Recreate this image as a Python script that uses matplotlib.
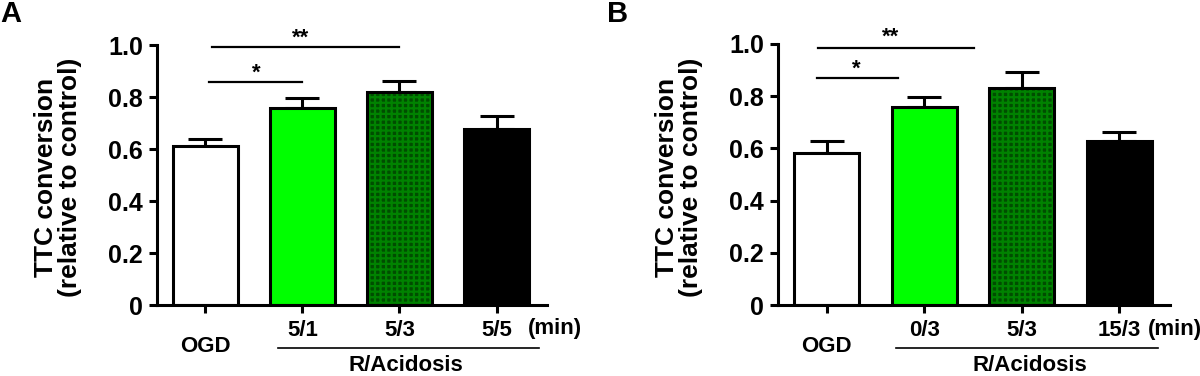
import matplotlib
matplotlib.use('Agg')
import matplotlib.pyplot as plt
import numpy as np

plt.rcParams['font.family'] = ['Liberation Sans', 'DejaVu Sans']
plt.rcParams['font.weight'] = 'bold'
plt.rcParams['hatch.linewidth'] = 1.6

# panel A
groups_a = ['OGD', '5/1', '5/3', '5/5']
mean_a = [0.611, 0.759, 0.820, 0.676]
sem_a = [0.027, 0.036, 0.042, 0.050]
sig_a = [(0.04, 1.0, 0.859, '*', 0.52, 0.012), (0.07, 2.0, 0.992, '**', 0.98, 0.012)]

# panel B
groups_b = ['OGD', '0/3', '5/3', '15/3']
mean_b = [0.581, 0.759, 0.830, 0.628]
sem_b = [0.046, 0.037, 0.063, 0.034]
sig_b = [(-0.10, 0.73, 0.871, '*', 0.30, 0.012), (-0.09, 1.51, 0.985, '**', 0.655, 0.02)]

faces = ['white', '#00ff00', '#004d00', 'black']
yticks = [0, 0.2, 0.4, 0.6, 0.8, 1.0]
ytick_labels = ['0', '0.2', '0.4', '0.6', '0.8', '1.0']


def draw_panel(ax, groups, means, sems, sigs, line_span, acid_x, min_x):
    x = np.arange(len(groups))
    w = 0.67
    for i in range(len(groups)):
        if i == 2:
            # checkered dark green fill
            ax.bar(x[i], means[i], w, color='#004d00', edgecolor='#008200',
                   hatch='+++', linewidth=0, zorder=2)
            ax.bar(x[i], means[i], w, fill=False, edgecolor='black',
                   linewidth=2.2, zorder=3)
        else:
            ax.bar(x[i], means[i], w, color=faces[i], edgecolor='black',
                   linewidth=2.2, zorder=2)
    ax.errorbar(x, means, yerr=[np.zeros(len(sems)), sems], fmt='none',
                ecolor='black', elinewidth=2.2, capsize=12, capthick=2.2, zorder=1)

    ax.set_xlim(-0.5, 3.52)
    ax.set_ylim(0, 1.0)
    ax.set_yticks(yticks)
    ax.set_yticklabels(ytick_labels, fontsize=18, fontweight='bold')
    ax.set_xticks(x)
    ax.set_xticklabels([''] + groups[1:], fontsize=16, fontweight='bold')
    ax.tick_params(axis='both', width=2.2, length=6, direction='out')
    ax.tick_params(axis='y', pad=4)
    ax.tick_params(axis='x', pad=5)
    for s in ['top', 'right']:
        ax.spines[s].set_visible(False)
    for s in ['left', 'bottom']:
        ax.spines[s].set_linewidth(2.2)

    tr = ax.get_xaxis_transform()
    ax.text(0, -0.158, groups[0], transform=tr, ha='center', va='center',
            fontsize=16, fontweight='bold')
    ax.text(min_x, -0.092, '(min)', transform=tr, ha='center', va='center',
            fontsize=16, fontweight='bold')
    ax.plot(line_span, [-0.165, -0.165], transform=tr, color='black',
            linewidth=1.2, clip_on=False)
    ax.text(acid_x, -0.232, 'R/Acidosis', transform=tr, ha='center', va='center',
            fontsize=16, fontweight='bold')

    for x0, x1, yy, lab, xs, off in sigs:
        ax.plot([x0, x1], [yy, yy], color='black', linewidth=1.6, clip_on=False)
        ax.text(xs, yy + off, lab, ha='center', va='baseline', fontsize=16,
                fontweight='bold', clip_on=False)

    ax.text(-0.2526, 0.49, 'TTC conversion\n(relative to control)',
            transform=ax.transAxes, rotation=90, ha='center', va='center',
            fontsize=19, fontweight='bold', linespacing=1.0)


fig = plt.figure(figsize=(12, 3.76), dpi=100)
ax_a = fig.add_axes([0.1308, 0.1888, 0.325, 0.6915])
ax_b = fig.add_axes([0.6483, 0.1888, 0.3267, 0.6942])

draw_panel(ax_a, groups_a, mean_a, sem_a, sig_a, [0.75, 3.44], 2.07, 3.6)
draw_panel(ax_b, groups_b, mean_b, sem_b, sig_b, [0.71, 3.40], 2.08, 3.57)

fig.text(0.0, 1.0, 'A', ha='left', va='top', fontsize=21, fontweight='bold')
fig.text(0.506, 1.0, 'B', ha='left', va='top', fontsize=21, fontweight='bold')

fig.savefig('out.png', dpi=100)
